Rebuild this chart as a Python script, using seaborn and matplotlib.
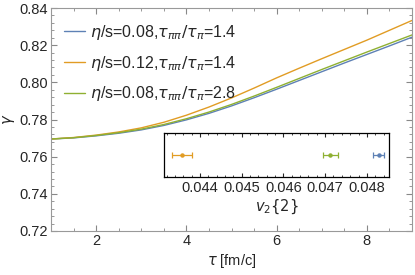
import numpy as np
import pandas as pd
import matplotlib
matplotlib.use("Agg")
import matplotlib.pyplot as plt
import seaborn as sns
from matplotlib.ticker import MultipleLocator, AutoMinorLocator

# gamma(tau) curves
tau = [1.0, 1.5, 2.0, 2.5, 3.0, 3.5, 4.0, 4.5, 5.0, 5.5, 6.0, 6.5, 7.0, 7.5, 8.0, 8.5, 9.0]
gamma_008_14 = [0.7695, 0.7701, 0.7712, 0.7726, 0.7744, 0.7768, 0.7798, 0.7833, 0.7873,
                0.7917, 0.7963, 0.8010, 0.8057, 0.8104, 0.8150, 0.8196, 0.8243]
gamma_012_14 = [0.7695, 0.7703, 0.7716, 0.7733, 0.7755, 0.7785, 0.7823, 0.7867, 0.7916,
                0.7969, 0.8024, 0.8076, 0.8127, 0.8177, 0.8227, 0.8280, 0.8333]
gamma_008_28 = [0.7695, 0.7702, 0.7714, 0.7729, 0.7748, 0.7773, 0.7804, 0.7840, 0.7881,
                0.7926, 0.7973, 0.8021, 0.8069, 0.8116, 0.8163, 0.8209, 0.8255]

labels = [r"$\eta$/s=0.08,$\tau_{\pi\pi}/\tau_{\pi}$=1.4",
          r"$\eta$/s=0.12,$\tau_{\pi\pi}/\tau_{\pi}$=1.4",
          r"$\eta$/s=0.08,$\tau_{\pi\pi}/\tau_{\pi}$=2.8"]
colors = ["#5E81B5", "#E19C24", "#8FB032"]

# inset: v2{2} with errors
v2 = [0.04828, 0.04357, 0.04712]
v2_err = [0.00014, 0.00023, 0.00018]

sns.set_style("ticks")
plt.rcParams["font.family"] = ["Liberation Sans", "DejaVu Sans"]
plt.rcParams["mathtext.fontset"] = "dejavusans"

df = pd.DataFrame({
    "tau": tau * 3,
    "gamma": gamma_008_14 + gamma_012_14 + gamma_008_28,
    "run": [labels[0]] * len(tau) + [labels[1]] * len(tau) + [labels[2]] * len(tau),
})

fs = 10.5
fig = plt.figure(figsize=(4.15, 2.75), dpi=100)
ax = fig.add_axes([51 / 415, 1 - 231 / 275, 361 / 415, 223 / 275])

sns.lineplot(data=df, x="tau", y="gamma", hue="run", hue_order=labels,
             palette=colors, linewidth=1.0, ax=ax)

ax.set_xlim(1, 9)
ax.set_ylim(0.72, 0.84)
ax.xaxis.set_major_locator(MultipleLocator(2))
ax.xaxis.set_minor_locator(MultipleLocator(0.5))
ax.yaxis.set_major_locator(MultipleLocator(0.02))
ax.yaxis.set_minor_locator(AutoMinorLocator(5))
ax.tick_params(which="both", direction="in", top=True, right=True,
               color="#888888", labelsize=fs, pad=2)
ax.tick_params(which="major", length=4)
ax.tick_params(which="minor", length=2)
for s in ax.spines.values():
    s.set_color("#999999")
    s.set_linewidth(0.8)
ax.set_xlabel(r"$\tau$ [fm/c]", fontsize=fs, labelpad=3)
ax.set_ylabel(r"$\gamma$", fontsize=fs, labelpad=2)

ax.legend(loc="upper left", frameon=False, fontsize=11.5, handlelength=1.3,
          handletextpad=0.3, labelspacing=0.75, borderaxespad=0.3,
          bbox_to_anchor=(0.005, 0.985))

# inset
ins = fig.add_axes([164 / 415, 1 - 177 / 275, 225 / 415, 44 / 275])
ins.set_facecolor("white")
for i in range(3):
    ins.errorbar([v2[i]], [0.5], xerr=[v2_err[i]], fmt="o", color=colors[i],
                 markersize=2.2, elinewidth=0.9, capsize=2.2, capthick=0.9)
ins.set_xlim(0.04314, 0.04853)
ins.set_ylim(0, 1)
ins.xaxis.set_major_locator(MultipleLocator(0.001))
ins.xaxis.set_minor_locator(AutoMinorLocator(5))
ins.set_yticks([])
ins.set_xticklabels([f"{t:.3f}" for t in ins.get_xticks()])
ins.tick_params(which="both", direction="in", top=True, labelsize=fs, pad=3)
ins.tick_params(which="major", length=3)
ins.tick_params(which="minor", length=1.5)
for s in ins.spines.values():
    s.set_color("black")
    s.set_linewidth(0.9)
ins.set_xlabel(r"$v_2\{2\}$", fontsize=fs, labelpad=2)

fig.savefig("out.png", dpi=100)
